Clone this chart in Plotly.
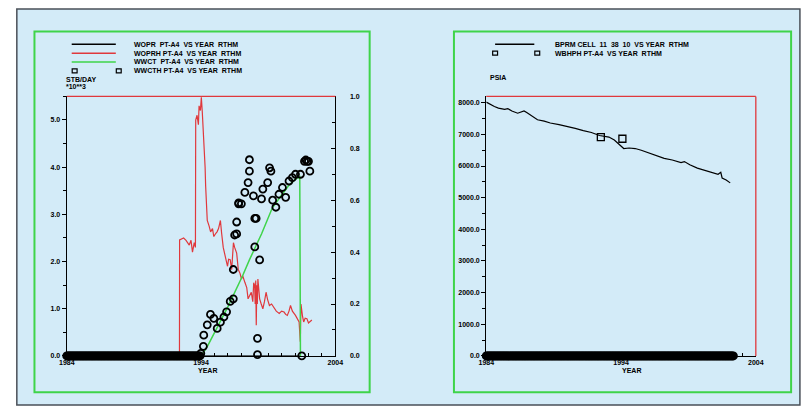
import plotly.graph_objects as go

W, H = 804, 413
def px(x): return x / W
def py(y): return 1 - y / H

# ---------------- DATA ----------------
# Left panel
wopr_years = [1984.0, 2001.4]
wopr_vals = [0.0, 0.0]

woprh_years = [1984.0, 1992.39, 1992.4, 1992.7, 1992.88, 1993.12, 1993.25, 1993.36, 1993.49, 1993.58, 1993.6,
               1993.7, 1993.8, 1993.85, 1993.95, 1994.02, 1994.09, 1994.16, 1994.22, 1994.3, 1994.34, 1994.4,
               1994.46, 1994.6, 1994.71, 1994.85, 1994.95, 1995.1, 1995.19, 1995.3, 1995.44, 1995.53, 1995.65,
               1995.8, 1995.97, 1996.05, 1996.17, 1996.28, 1996.35, 1996.41, 1996.5, 1996.65, 1996.77, 1996.9,
               1997.01, 1997.1, 1997.26, 1997.4, 1997.5, 1997.62, 1997.74, 1997.85, 1997.92, 1997.99, 1998.03,
               1998.07, 1998.11, 1998.15, 1998.19, 1998.23, 1998.3, 1998.36, 1998.48, 1998.6, 1998.72, 1998.84,
               1998.95, 1999.09, 1999.25, 1999.45, 1999.6, 1999.82, 2000.0, 2000.18, 2000.3, 2000.42, 2000.55,
               2000.66, 2000.8, 2001.03, 2001.15, 2001.3, 2001.39, 2001.44, 2001.55, 2001.64, 2001.75, 2001.88,
               2002.0, 2002.12, 2002.25]
woprh_vals = [0.0, 0.0, 2.46, 2.5, 2.45, 2.35, 2.45, 2.2, 2.4, 2.3, 5.0,
              5.1, 4.9, 5.3, 5.2, 5.48, 5.17, 4.8, 4.54, 4.0, 3.6, 3.3,
              2.87, 2.75, 2.63, 2.7, 2.53, 2.6, 2.63, 2.7, 2.87, 2.6, 2.3,
              2.11, 1.9, 2.05, 2.04, 1.83, 2.1, 2.4, 2.3, 2.18, 1.83, 1.75,
              1.63, 1.7, 1.56, 1.45, 1.21, 1.3, 1.35, 1.15, 1.55, 1.49, 1.1,
              1.6, 0.65, 1.5, 1.1, 1.63, 1.4, 1.21, 1.1, 1.0, 1.15, 1.35,
              1.2, 1.07, 1.1, 1.0, 0.95, 0.9, 0.95, 0.93, 0.88, 0.86, 0.95,
              1.07, 0.95, 0.86, 0.8, 0.72, 0.3, 1.1, 0.85, 0.72, 0.8, 0.79,
              0.7, 0.72, 0.76]

wwct_years = [1984.0, 1994.0, 1994.5, 1995.0, 1996.0, 1997.1, 1997.6, 1998.5, 1999.3, 2000.0, 2000.5, 2001.0, 2001.35, 2001.4]
wwct_vals = [0.0, 0.0, 0.04, 0.09, 0.19, 0.31, 0.37, 0.47, 0.57, 0.62, 0.655, 0.68, 0.69, 0.0]

# WWCTH observations: zero readings monthly 1984-1993, then measured values
wwcth_zero_start, wwcth_zero_months = 1984.0, 120
wwcth_years = [1993.98, 1994.17, 1994.2, 1994.46, 1994.7, 1994.95, 1995.2, 1995.44, 1995.7, 1995.9,
               1996.17, 1996.4, 1996.4, 1996.5, 1996.65, 1996.65, 1996.8, 1996.8, 1997.0, 1997.26,
               1997.5, 1997.6, 1997.6, 1997.9, 1998.0, 1998.0, 1998.1, 1998.2, 1998.2, 1998.36,
               1998.5, 1998.6, 1998.96, 1999.1, 1999.2, 1999.33, 1999.57, 1999.8, 2000.06, 2000.3,
               2000.55, 2000.8, 2001.03, 2001.4, 2001.5, 2001.7, 2001.8, 2001.9, 2002.0, 2002.1]
wwcth_vals = [0.01, 0.037, 0.08, 0.12, 0.16, 0.145, 0.106, 0.13, 0.15, 0.17,
              0.21, 0.22, 0.333, 0.466, 0.516, 0.47, 0.586, 0.59, 0.586, 0.63,
              0.668, 0.712, 0.756, 0.617, 0.53, 0.42, 0.53, 0.068, 0.005, 0.37,
              0.605, 0.643, 0.668, 0.725, 0.712, 0.6, 0.573, 0.623, 0.649, 0.611,
              0.674, 0.687, 0.7, 0.7, 0.0, 0.75, 0.755, 0.75, 0.75, 0.712]

# Right panel
bprm_years = [1984.0, 1984.27, 1984.6, 1984.9, 1985.36, 1985.6, 1985.9, 1986.33, 1986.6, 1986.8, 1987.0,
              1987.3, 1987.8, 1988.3, 1988.75, 1989.4, 1990.0, 1990.6, 1991.2, 1991.8, 1992.4, 1992.8,
              1993.1, 1993.5, 1993.8, 1994.0, 1994.2, 1994.6, 1995.05, 1995.5, 1996.0, 1996.6, 1997.2,
              1997.8, 1998.2, 1998.45, 1998.7, 1999.1, 1999.66, 2000.3, 2000.9, 2001.2, 2001.4, 2001.5,
              2001.8, 2002.1]
bprm_vals = [8020, 7950, 7880, 7830, 7793, 7814, 7740, 7669, 7720, 7742, 7690,
             7607, 7463, 7420, 7359, 7310, 7256, 7190, 7121, 7060, 6966, 6940,
             6915, 6820, 6708, 6650, 6553, 6570, 6553, 6500, 6429, 6340, 6243,
             6190, 6150, 6109, 6140, 6040, 5933, 5860, 5778, 5740, 5800, 5623,
             5560, 5468]

wbhph_zero_start, wbhph_zero_months = 1984.0, 221
wbhph_years = [1992.5, 1994.1]
wbhph_vals = [6915, 6862]

x_ticks = [1984, 1994, 2004]
left_y_ticks = [0, 1, 2, 3, 4, 5]
left_y_text = ["0.0", "1.0", "2.0", "3.0", "4.0", "5.0"]
right_y_ticks = [0, 0.2, 0.4, 0.6, 0.8, 1.0]
right_y_text = ["0.0", "0.2", "0.4", "0.6", "0.8", "1.0"]
pr_ticks = [0, 1000, 2000, 3000, 4000, 5000, 6000, 7000, 8000]
pr_text = ["0.0", "1000.0", "2000.0", "3000.0", "4000.0", "5000.0", "6000.0", "7000.0", "8000.0"]

legend_left = ["WOPR  PT-A4  VS YEAR  RTHM", "WOPRH PT-A4  VS YEAR  RTHM",
               "WWCT  PT-A4  VS YEAR  RTHM", "WWCTH PT-A4  VS YEAR  RTHM"]
legend_right = ["BPRM CELL  11  38  10  VS YEAR  RTHM", "WBHPH PT-A4  VS YEAR  RTHM"]

# ---------------- STYLE ----------------
BG = "#d3ebf8"
GREEN = "#3fd44a"
RED = "#e0383c"
FONT = dict(family="Liberation Sans", size=7, color="black", weight="bold")

wwcth_zero_years = [wwcth_zero_start + m / 12 for m in range(wwcth_zero_months)]
wbhph_zero_years = [wbhph_zero_start + m / 12 for m in range(wbhph_zero_months)]

fig = go.Figure()

# Left panel traces
fig.add_trace(go.Scatter(x=wopr_years, y=wopr_vals, mode="lines", line=dict(color="black", width=1),
                         xaxis="x", yaxis="y", showlegend=False))
fig.add_trace(go.Scatter(x=woprh_years, y=woprh_vals, mode="lines", line=dict(color=RED, width=1.2),
                         xaxis="x", yaxis="y", showlegend=False))
fig.add_trace(go.Scatter(x=wwct_years, y=wwct_vals, mode="lines", line=dict(color=GREEN, width=1.5),
                         xaxis="x", yaxis="y2", showlegend=False))
fig.add_trace(go.Scatter(x=wwcth_zero_years, y=[0.0] * len(wwcth_zero_years), mode="markers",
                         marker=dict(symbol="circle-open", size=7, color="black", line=dict(width=2)),
                         cliponaxis=False, xaxis="x", yaxis="y2", showlegend=False))
fig.add_trace(go.Scatter(x=wwcth_years, y=wwcth_vals, mode="markers",
                         marker=dict(symbol="circle-open", size=7, color="black", line=dict(width=1.8)),
                         cliponaxis=False, xaxis="x", yaxis="y2", showlegend=False))

# Right panel traces
fig.add_trace(go.Scatter(x=bprm_years, y=bprm_vals, mode="lines", line=dict(color="black", width=1.2),
                         xaxis="x2", yaxis="y3", showlegend=False))
fig.add_trace(go.Scatter(x=wbhph_zero_years, y=[0] * len(wbhph_zero_years), mode="markers",
                         marker=dict(symbol="circle-open", size=7, color="black", line=dict(width=2)),
                         cliponaxis=False, xaxis="x2", yaxis="y3", showlegend=False))
fig.add_trace(go.Scatter(x=wbhph_years, y=wbhph_vals, mode="markers",
                         marker=dict(symbol="square-open", size=7, color="black", line=dict(width=1.3)),
                         cliponaxis=False, xaxis="x2", yaxis="y3", showlegend=False))

L0, L1 = 60, 334
R0, R1 = 488, 763
T, B = 94, 358

axis_common = dict(showline=True, linecolor="black", linewidth=1.3, showgrid=False, zeroline=False,
                   tickfont=FONT, ticks="outside", ticklen=4, tickcolor="black", fixedrange=True)

fig.update_layout(
    width=W, height=H, margin=dict(l=0, r=0, t=0, b=0),
    paper_bgcolor="white", plot_bgcolor="rgba(0,0,0,0)",
    font=FONT, showlegend=False,
    xaxis=dict(domain=[px(L0), px(L1)], range=[1984, 2004], tickvals=x_ticks, ticktext=[str(v) for v in x_ticks],
               anchor="y", minor=dict(dtick=1, ticks="inside", ticklen=3, tickcolor="black"),
               **{**axis_common, "ticks": "inside"}),
    yaxis=dict(domain=[py(B), py(T)], range=[0, 5.5], tickvals=left_y_ticks, ticktext=left_y_text,
               anchor="x", minor=dict(dtick=0.5, ticks="outside", ticklen=3, tickcolor="black"), **axis_common),
    yaxis2=dict(overlaying="y", side="right", range=[0, 1.0], tickvals=right_y_ticks, ticktext=right_y_text,
                anchor="x", ticklabelstandoff=12, minor=dict(dtick=0.1, ticks="inside", ticklen=3, tickcolor="black"),
                **{**axis_common, "ticks": "inside"}),
    xaxis2=dict(domain=[px(R0), px(R1)], range=[1984, 2004], tickvals=x_ticks, ticktext=[str(v) for v in x_ticks],
                anchor="y3", minor=dict(dtick=1, ticks="inside", ticklen=3, tickcolor="black"),
                **{**axis_common, "ticks": "inside"}),
    yaxis3=dict(domain=[py(B), py(T)], range=[0, 8200], tickvals=pr_ticks, ticktext=pr_text,
                anchor="x2", minor=dict(dtick=500, ticks="outside", ticklen=3, tickcolor="black"), **axis_common),
)

shapes = []
# outer frame
shapes.append(dict(type="rect", xref="paper", yref="paper", x0=px(9), x1=px(808), y0=py(408), y1=py(5),
                   fillcolor=BG, line=dict(color="#4a5058", width=1.5), layer="below"))
# green panel boxes
for (a, b) in [(27, 369), (455, 799)]:
    shapes.append(dict(type="rect", xref="paper", yref="paper", x0=px(a), x1=px(b), y0=py(395), y1=py(28),
                       line=dict(color=GREEN, width=2), fillcolor="rgba(0,0,0,0)", layer="below"))
# red frame (top of both plots, right of right plot)
shapes.append(dict(type="line", xref="paper", yref="paper", x0=px(L0), x1=px(L1), y0=py(T), y1=py(T),
                   line=dict(color=RED, width=1.3)))
shapes.append(dict(type="line", xref="paper", yref="paper", x0=px(R0), x1=px(R1), y0=py(T), y1=py(T),
                   line=dict(color=RED, width=1.3)))
shapes.append(dict(type="line", xref="paper", yref="paper", x0=px(R1), x1=px(R1), y0=py(T), y1=py(B),
                   line=dict(color=RED, width=1.3)))

# left legend samples
for i, c in enumerate(["black", RED, GREEN]):
    yy = 41 + 9 * i
    shapes.append(dict(type="line", xref="paper", yref="paper", x0=px(65), x1=px(110), y0=py(yy), y1=py(yy),
                       line=dict(color=c, width=1.5)))
for xx in (68, 113):
    shapes.append(dict(type="rect", xref="paper", yref="paper", x0=px(xx - 2.5), x1=px(xx + 2.5),
                       y0=py(68 + 2), y1=py(68 - 2), line=dict(color="black", width=1.2)))
# right legend samples
shapes.append(dict(type="line", xref="paper", yref="paper", x0=px(497), x1=px(537), y0=py(41), y1=py(41),
                   line=dict(color="black", width=1.5)))
for xx in (497, 540):
    shapes.append(dict(type="rect", xref="paper", yref="paper", x0=px(xx - 2.5), x1=px(xx + 2.5),
                       y0=py(50 + 2), y1=py(50 - 2), line=dict(color="black", width=1.2)))
fig.update_layout(shapes=shapes)

ann = []
for i, t in enumerate(legend_left):
    ann.append(dict(x=px(127), y=py(41 + 9 * i), text=t))
for i, t in enumerate(legend_right):
    ann.append(dict(x=px(556), y=py(41 + 9 * i), text=t))
ann.append(dict(x=px(57), y=py(77), text="STB/DAY"))
ann.append(dict(x=px(57), y=py(84), text="*10**3"))
ann.append(dict(x=px(490), y=py(75), text="PSIA"))
ann.append(dict(x=px(192), y=py(373), text="YEAR"))
ann.append(dict(x=px(624), y=py(373), text="YEAR"))
fig.update_layout(annotations=[dict(a, xref="paper", yref="paper", showarrow=False, xanchor="left",
                                    yanchor="middle", font=FONT) for a in ann])

fig.write_html("out.html")
